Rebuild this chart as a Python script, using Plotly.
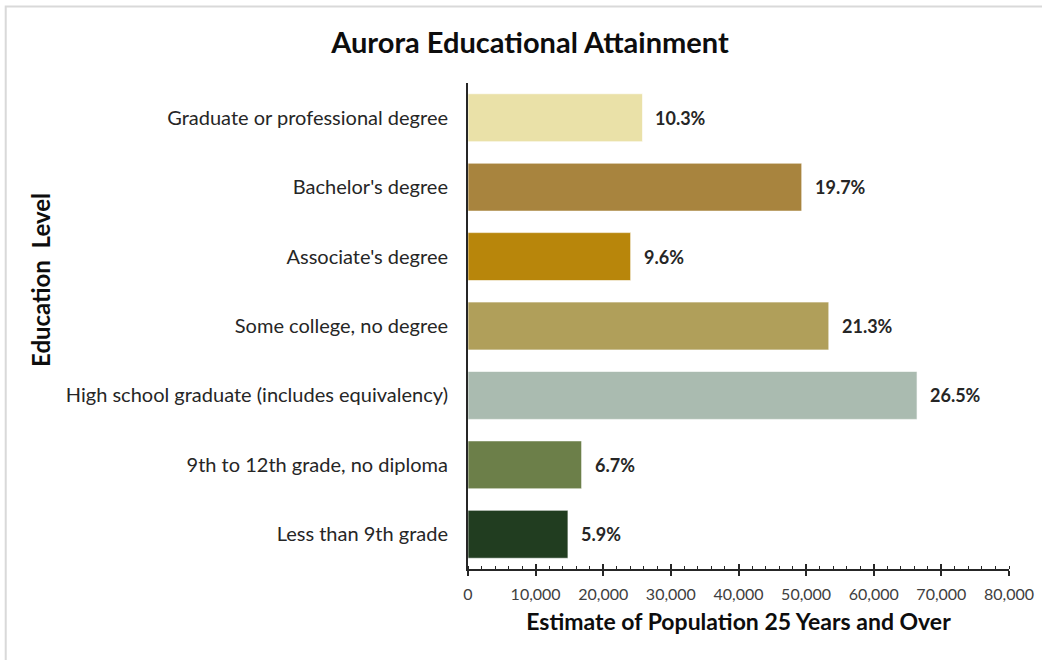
import plotly.graph_objects as go

# Educational attainment, population 25 years and over (Aurora)
levels = [
    "Less than 9th grade",
    "9th to 12th grade, no diploma",
    "High school graduate (includes equivalency)",
    "Some college, no degree",
    "Associate's degree",
    "Bachelor's degree",
    "Graduate or professional degree",
]
population = [14780, 16800, 66400, 53350, 24050, 49350, 25800]
bar_colors = ["#213D20", "#6C7F49", "#AABBB0", "#B09F5A", "#B8860B", "#A8843E", "#EAE1A8"]
x_ticks = [0, 10000, 20000, 30000, 40000, 50000, 60000, 70000, 80000]

total = sum(population)
shares = [f"{v / total * 100:.1f}%" for v in population]

FONT = "Lato"
TEXT = "#262626"

fig = go.Figure()
fig.add_trace(go.Bar(
    y=levels,
    x=population,
    orientation="h",
    marker=dict(color=bar_colors, line=dict(color="rgba(255,255,255,0.6)", width=1)),
    hoverinfo="x+y",
    showlegend=False,
))

# share labels to the right of each bar
for lvl, v, s in zip(levels, population, shares):
    fig.add_annotation(
        x=v, y=lvl, text=f"<b>{s}</b>", showarrow=False,
        xanchor="left", yanchor="middle", xshift=11,
        font=dict(family=FONT, size=18, color=TEXT),
    )

# vertical axis title, sitting a little above the plot's middle
fig.add_annotation(
    xref="paper", yref="paper", x=-0.789, y=0.595,
    text="<b>Education\u00a0 Level</b>", textangle=-90, showarrow=False,
    xanchor="center", yanchor="middle",
    font=dict(family=FONT, size=24, color="#0D0D0D"),
)

# outer chart frame
fig.add_shape(type="rect", xref="paper", yref="paper",
              x0=-0.8545, x1=2.0, y0=-1.0, y1=1.1576,
              line=dict(color="#D9D9D9", width=2), fillcolor="rgba(0,0,0,0)", layer="below")

fig.update_layout(
    width=1042, height=660,
    margin=dict(l=468, r=33, t=83, b=91),
    paper_bgcolor="white", plot_bgcolor="white",
    bargap=0.31,
    title=dict(text="<b>Aurora Educational Attainment</b>", x=0.5086, xanchor="center",
               y=0.935, yanchor="middle",
               font=dict(family=FONT, size=29, color="#0D0D0D")),
    xaxis=dict(
        range=[0, 80000], tickvals=x_ticks, tickformat=",d", automargin=False,
        ticks="outside", ticklen=5, tickwidth=1.5, tickcolor="#262626",
        minor=dict(dtick=2000, ticks="inside", ticklen=3, tickwidth=1.2, tickcolor="#262626"),
        showline=True, linecolor="#262626", linewidth=2,
        showgrid=False, zeroline=False,
        ticklabelstandoff=5,
        tickfont=dict(family=FONT, size=16, color="#404040"),
        title=dict(text="<b>Estimate of Population 25 Years and Over</b>", standoff=12,
                   font=dict(family=FONT, size=23, color="#0D0D0D")),
    ),
    xaxis2=dict(
        overlaying="x", range=[0, 80000], tickvals=x_ticks, showticklabels=False,
        automargin=False,
        ticks="inside", ticklen=5, tickwidth=1.5, tickcolor="#262626",
        showgrid=False, zeroline=False, showline=False, anchor="y", side="bottom",
    ),
    yaxis=dict(
        categoryorder="array", categoryarray=levels, range=[-0.5, 6.5], automargin=False,
        showline=True, linecolor="#262626", linewidth=2,
        ticks="", ticklabelstandoff=14, showgrid=False, zeroline=False,
        tickfont=dict(family=FONT, size=20, color=TEXT),
    ),
)
# empty trace so the overlay axis with crossing major ticks is rendered
fig.add_trace(go.Scatter(x=[None], y=[None], xaxis="x2", yaxis="y", showlegend=False, hoverinfo="skip"))

fig.write_html("out.html")
